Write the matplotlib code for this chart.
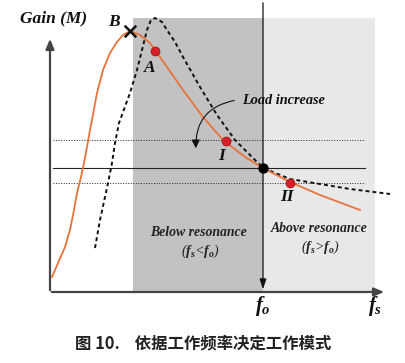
import matplotlib
matplotlib.use("Agg")
import matplotlib.pyplot as plt
from matplotlib.patches import Rectangle, FancyArrowPatch

plt.rcParams["mathtext.fontset"] = "custom"
plt.rcParams["mathtext.it"] = "Liberation Serif:italic:bold"
plt.rcParams["mathtext.rm"] = "Liberation Serif:bold"
plt.rcParams["mathtext.bf"] = "Liberation Serif:bold"

# ---- data (arbitrary units: frequency f, gain g; f_o = 213, gain at resonance = 124)
fo = 213
g_res = 124
g_top = 274

orange_f = [2, 8, 15, 20, 24, 27, 31, 34, 37, 40, 42, 47, 53, 60, 67, 73, 80, 90, 100, 117, 133, 153, 173, 195, 213, 240, 270, 310]
orange_g = [15, 29, 45, 62, 82, 99, 115, 129, 145, 162, 172, 199, 222, 239, 250, 257, 261, 257, 249, 225, 202, 175, 152, 135, 124, 110, 97, 82]

dashed_f = [45, 50, 55, 58, 62, 65, 69, 80, 87, 92, 97, 101, 105, 112, 117, 125, 133, 150, 167, 185, 213, 240, 270, 300, 340]
dashed_g = [44, 72, 95, 109, 129, 149, 169, 199, 222, 242, 262, 272, 274, 270, 262, 250, 235, 205, 177, 152, 124, 113, 108, 103, 98]

red_points_f = [105, 176, 240]
red_points_g = [241, 151, 109]
point_labels = ["A", "I", "II"]
label_f = [100, 172, 237]
label_g = [224, 136, 95]

B_f, B_g = 80, 261
hlines_g = [152, 124, 109]
hlines_style = [":", "-", ":"]

below_range = (83, fo)
above_range = (fo, 325)

fig = plt.figure(figsize=(4.05, 3.63), dpi=100)
ax = fig.add_axes([0, 0, 1, 1])
ax.set_xlim(-50, 355)
ax.set_ylim(-71, 292)
ax.axis("off")

# shaded regions
ax.add_patch(Rectangle((below_range[0], 0), below_range[1] - below_range[0], g_top,
                       facecolor="#c2c2c2", edgecolor="none", zorder=0))
ax.add_patch(Rectangle((above_range[0], 0), above_range[1] - above_range[0], g_top,
                       facecolor="#e8e8e8", edgecolor="none", zorder=0))

# horizontal reference lines
for g, ls in zip(hlines_g, hlines_style):
    ax.plot([3, 315], [g, g], color="#222222", lw=0.8 if ls == "-" else 0.7,
            ls=ls, zorder=1)

# axes arrows
ax.annotate("", xy=(0, 256), xytext=(0, -1),
            arrowprops=dict(arrowstyle="-|>,head_length=0.6,head_width=0.25",
                            color="#444444", lw=1.6))
ax.annotate("", xy=(337, 0), xytext=(-1, 0),
            arrowprops=dict(arrowstyle="-|>,head_length=0.6,head_width=0.25",
                            color="#444444", lw=1.6))
# f_o vertical line
ax.annotate("", xy=(fo, 0), xytext=(fo, 292),
            arrowprops=dict(arrowstyle="-|>,head_length=0.6,head_width=0.2",
                            color="#111111", lw=0.9))

# curves
ax.plot(dashed_f, dashed_g, color="#111111", lw=1.4, ls=(0, (2, 1.6)), zorder=3)
ax.plot(orange_f, orange_g, color="#e8733a", lw=1.3, zorder=4)

# points
ax.scatter(red_points_f, red_points_g, s=42, color="#d61f26", edgecolor="#a01010",
           lw=0.5, zorder=6)
ax.scatter([fo], [g_res], s=42, color="#000000", zorder=6)
ax.scatter([B_f], [B_g], s=70, marker="x", color="#111111", lw=1.8, zorder=6)

serif = "Liberation Serif"
for t, x, y in zip(point_labels, label_f, label_g):
    ax.text(x, y, t, fontsize=12.5, fontweight="bold", style="italic", family=serif,
            ha="center", va="center", color="#111111")
ax.text(64, 270, "B", fontsize=12.5, fontweight="bold", style="italic", family=serif,
        ha="center", va="center", color="#111111")
ax.text(4, 274, "Gain (M)", fontsize=12.5, fontweight="bold", style="italic",
        family=serif, ha="center", va="center", color="#111111")

# Load increase
ax.text(192, 191, "Load increase", fontsize=10.3, fontweight="bold", style="italic",
        family=serif, ha="left", va="center", color="#111111")
ax.add_patch(FancyArrowPatch((187, 192), (146, 141), connectionstyle="arc3,rad=0.45",
                             arrowstyle="-|>,head_length=5,head_width=2.5",
                             color="#111111", lw=0.8, zorder=7))

ax.text(148, 59, "Below resonance", fontsize=9.9, fontweight="bold", style="italic",
        family=serif, ha="center", va="center", color="#222222")
ax.text(150, 41, r"($f_s$<$f_o$)", fontsize=10, family=serif, style="italic",
        ha="center", va="center", color="#222222")
ax.text(269, 63, "Above resonance", fontsize=9.9, fontweight="bold", style="italic",
        family=serif, ha="center", va="center", color="#222222")
ax.text(270, 45, r"($f_s$>$f_o$)", fontsize=10, family=serif, style="italic",
        ha="center", va="center", color="#222222")

ax.text(fo, -14, r"$f_o$", fontsize=15, ha="center", va="center",
        color="#111111")
ax.text(325, -14, r"$f_s$", fontsize=15, ha="center", va="center",
        color="#111111")

ax.text(153, -51, "图 10.    依据工作频率决定工作模式", fontsize=11.8, fontweight="bold",
        family=["Noto Sans CJK SC", "DejaVu Sans"], ha="center", va="center",
        color="#222222")

fig.savefig("out.png", dpi=100)
